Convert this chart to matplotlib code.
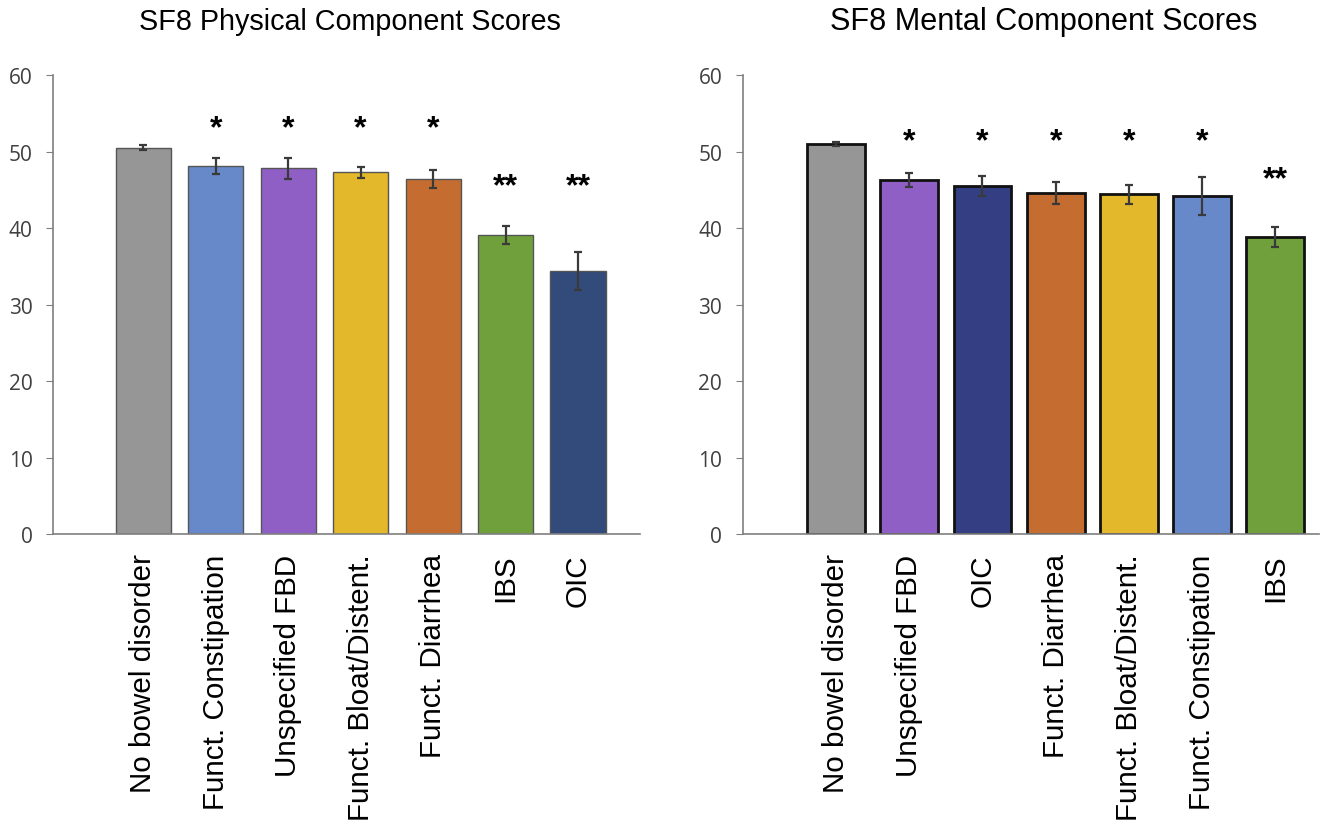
import matplotlib
matplotlib.use("Agg")
import matplotlib.pyplot as plt

plt.rcParams["font.family"] = ["Liberation Sans", "DejaVu Sans"]

# left panel: physical component scores
phys_labels = ["No bowel disorder", "Funct. Constipation", "Unspecified FBD",
               "Funct. Bloat/Distent.", "Funct. Diarrhea", "IBS", "OIC"]
phys_values = [50.5, 48.1, 47.8, 47.3, 46.4, 39.1, 34.4]
phys_err = [0.3, 1.05, 1.4, 0.7, 1.2, 1.2, 2.5]
phys_marks = ["", "*", "*", "*", "*", "**", "**"]
phys_colors = ["#969696", "#6788c9", "#8f5fc6", "#e3b82a", "#c56d31", "#70a03b", "#324b7b"]

# right panel: mental component scores
ment_labels = ["No bowel disorder", "Unspecified FBD", "OIC", "Funct. Diarrhea",
               "Funct. Bloat/Distent.", "Funct. Constipation", "IBS"]
ment_values = [51.0, 46.3, 45.5, 44.6, 44.4, 44.2, 38.8]
ment_err = [0.25, 0.9, 1.3, 1.4, 1.25, 2.45, 1.3]
ment_marks = ["", "*", "*", "*", "*", "*", "**"]
ment_colors = ["#969696", "#8f5fc6", "#333f82", "#c56d31", "#e3b82a", "#6788c9", "#70a03b"]

yticks = [0, 10, 20, 30, 40, 50, 60]


def draw_panel(ax, labels, values, err, marks, colors, edge, lw, width, xlim,
               y_one, y_two):
    x = range(len(labels))
    ax.bar(x, values, width=width, color=colors, edgecolor=edge, linewidth=lw, zorder=2)
    ax.errorbar(x, values, yerr=err, fmt="none", ecolor="#3a3a3a", elinewidth=1.6,
                capsize=3, capthick=1.6, zorder=3)
    # significance marks sit at two fixed heights
    for i, m in enumerate(marks):
        if m:
            ax.text(i, y_one if m == "*" else y_two, m, ha="center", va="center",
                    fontsize=23, fontweight="bold")
    ax.set_ylim(0, 60)
    ax.set_xlim(*xlim)
    ax.set_yticks(yticks)
    ax.set_xticks(list(x))
    ax.set_xticklabels(labels, rotation=90, fontsize=21.3)
    ax.tick_params(axis="x", length=0, pad=14)
    ax.tick_params(axis="y", length=5, color="#808080", labelsize=15, labelcolor="#404040",
                   pad=10)
    for lab in ax.get_yticklabels():
        lab.set_family(["Open Sans", "DejaVu Sans"])
    for s in ("top", "right"):
        ax.spines[s].set_visible(False)
    for s in ("left", "bottom"):
        ax.spines[s].set_color("#7f7f7f")
        ax.spines[s].set_linewidth(1.2)


fig = plt.figure(figsize=(13.34, 8.29), dpi=100)
ax1 = fig.add_axes([0.040, 0.3546, 0.440, 0.5537])
ax2 = fig.add_axes([0.557, 0.3546, 0.432, 0.5537])

draw_panel(ax1, phys_labels, phys_values, phys_err, phys_marks, phys_colors,
           "#555555", 1.0, 0.76, (-1.24, 6.86), 53.0, 45.4)
draw_panel(ax2, ment_labels, ment_values, ment_err, ment_marks, ment_colors,
           "#111111", 2.0, 0.79, (-1.27, 6.6), 51.4, 46.4)

fig.text(0.262, 0.9735, "SF8 Physical Component Scores", ha="center", va="center",
         fontsize=20.7)
fig.text(0.7826, 0.9735, "SF8 Mental Component Scores", ha="center", va="center",
         fontsize=22.1)

fig.savefig("out.png", dpi=100)
